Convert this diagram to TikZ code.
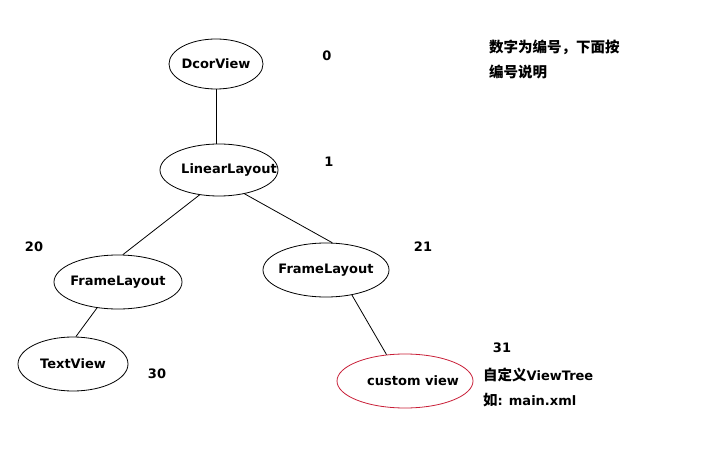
\documentclass[tikz,border=0pt]{standalone}
\usepackage{fontspec}
\setmainfont{DejaVu Sans}
\newfontfamily\cjk{Noto Sans CJK SC Bold}
\usepackage{tikz}
\usetikzlibrary{shapes.geometric}
\usetikzlibrary{positioning}
\definecolor{custred}{RGB}{200,30,55}
\tikzset{view/.style = {draw, ellipse, inner sep = 0, line width = 0.8}}
\tikzset{vtext/.style = {font = \fontsize{13}{15}\selectfont\bfseries, inner sep = 0}}
\tikzset{num/.style = {font = \fontsize{13}{15}\selectfont\bfseries, inner sep = 0}}
\tikzset{note/.style = {font = \fontsize{13}{15}\selectfont\bfseries, inner sep = 0, anchor = west}}

\begin{document}
\begin{tikzpicture}[x=1pt, y=-1pt]
      \useasboundingbox (0, 0) rectangle (711, 470);
      \node [view, minimum width=94, minimum height=50, label={[vtext]center:DcorView}] (dv) at (216, 64) {};
      \node [view, minimum width=118, minimum height=52, label={[vtext, xshift=10]center:LinearLayout}] (ll) at (219, 170) {};
      \node [view, minimum width=128, minimum height=54, label={[vtext]center:FrameLayout}] (fla) at (118, 282) {};
      \node [view, minimum width=126, minimum height=54, label={[vtext]center:FrameLayout}] (flb) at (326, 270) {};
      \node [view, minimum width=110, minimum height=54, label={[vtext]center:TextView}] (tv) at (73, 364) {};
      \node [view, draw=custred, minimum width=136, minimum height=54, label={[vtext, xshift=8]center:custom view}] (cv) at (405, 381) {};
      \draw [line width=0.8] (dv.south) -- (dv.south |- ll.north);
      \draw [line width=0.8] (ll.232) -- (fla.80);
      \draw [line width=0.8] (ll.317) -- (flb.77);
      \draw [line width=0.8] (fla.231) -- (tv.84);
      \draw [line width=0.8] (flb.316) -- (cv.125);
      \node [num] (n0) at (327, 56) {0};
      \node [num] (n1) at (329, 162) {1};
      \node [num] (n20) at (34, 247) {20};
      \node [num] (n21) at (423, 247) {21};
      \node [num] (n30) at (157, 374) {30};
      \node [num] (n31) at (502, 348) {31};
      \node [note] (hint1) at (489, 47) {\cjk\fontsize{14.5}{16}\selectfont 数字为编号，下面按};
      \node [note] (hint2) at (489, 72) {\cjk\fontsize{14.5}{16}\selectfont 编号说明};
      \node [note] (tree) at (483, 375) {{\cjk\fontsize{14.5}{16}\selectfont 自定义}ViewTree};
      \node [note] (xml) at (483, 400) {{\cjk\fontsize{14.5}{16}\selectfont 如}: main.xml};
    \end{tikzpicture}
\end{document}
